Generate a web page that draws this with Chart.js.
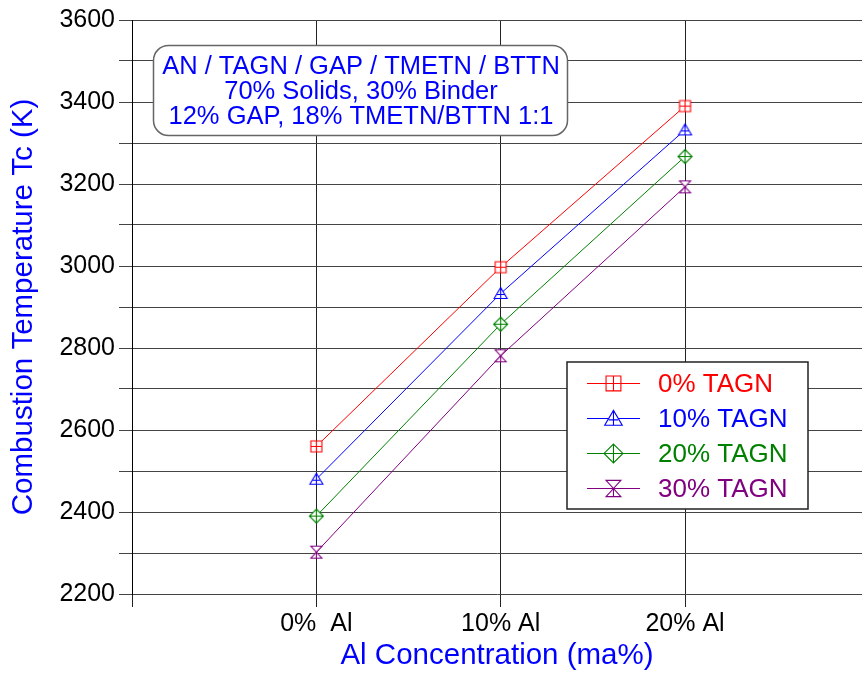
<!DOCTYPE html>
<html>
<head>
<meta charset="utf-8">
<script src="https://cdn.jsdelivr.net/npm/chart.js@4.4.1/dist/chart.umd.min.js"></script>
<style>
  html, body { margin: 0; padding: 0; background: #fff; }
</style>
</head>
<body>
<canvas id="tcChart" width="862" height="675"></canvas>
<script>
// Data
const categories = ['0%  Al', '10% Al', '20% Al'];
const seriesNames = ['0% TAGN', '10% TAGN', '20% TAGN', '30% TAGN'];
const tagn0 = [2560, 2997, 3390];
const tagn10 = [2480, 2933, 3332];
const tagn20 = [2390, 2858, 3267];
const tagn30 = [2302, 2781, 3193];
const seriesColors = ['#ff0000', '#0000ff', '#008000', '#800080'];
const markerKinds = ['squarePlus', 'triangle', 'diamond', 'hourglass'];
const noteLines = ['AN / TAGN / GAP / TMETN / BTTN', '70% Solids, 30% Binder', '12% GAP, 18% TMETN/BTTN 1:1'];
const xTickValues = [-1, 0, 1, 2];

const FONT = "'Liberation Sans', Arial, sans-serif";

function makeMarker(kind, color, scale) {
    const c = document.createElement('canvas');
    c.width = Math.round(17 * scale); c.height = Math.round(17 * scale);
    const g = c.getContext('2d');
    g.scale(scale, scale);
    g.strokeStyle = color;
    g.fillStyle = '#fff';
    g.lineWidth = 1.1 / scale;
    g.beginPath();
    if (kind === 'squarePlus') {
        g.rect(3, 3, 11, 11);
        g.fill(); g.stroke();
        g.beginPath();
        g.moveTo(8.5, 3); g.lineTo(8.5, 14);
        g.moveTo(3, 8.5); g.lineTo(14, 8.5);
    } else if (kind === 'triangle') {
        g.moveTo(8.5, 2.5); g.lineTo(15, 13.5); g.lineTo(2, 13.5); g.closePath();
        g.fill(); g.stroke();
        g.beginPath();
        g.moveTo(8.5, 2.5); g.lineTo(8.5, 13.5);
        g.moveTo(5, 9.5); g.lineTo(12, 9.5);
    } else if (kind === 'diamond') {
        g.moveTo(8.5, 1.5); g.lineTo(15.5, 8.5); g.lineTo(8.5, 15.5); g.lineTo(1.5, 8.5); g.closePath();
        g.fill(); g.stroke();
        g.beginPath();
        g.moveTo(8.5, 1.5); g.lineTo(8.5, 15.5);
        g.moveTo(1.5, 8.5); g.lineTo(15.5, 8.5);
    } else {
        g.moveTo(3, 2.5); g.lineTo(14, 2.5); g.lineTo(3, 14.5); g.lineTo(14, 14.5); g.closePath();
        g.fill(); g.stroke();
        g.beginPath();
        g.moveTo(8.5, 8.5); g.lineTo(8.5, 14.5);
    }
    g.stroke();
    return c;
}

const allSeries = [tagn0, tagn10, tagn20, tagn30];
const legendMarkers = markerKinds.map((k, i) => makeMarker(k, seriesColors[i], 1.35));
const datasets = allSeries.map((vals, i) => ({
    label: seriesNames[i],
    data: vals.map((v, j) => ({ x: j, y: v })),
    borderColor: seriesColors[i],
    backgroundColor: seriesColors[i],
    borderWidth: 1,
    pointStyle: makeMarker(markerKinds[i], seriesColors[i], 1),
    pointRadius: 6,
    tension: 0
}));

// note box + legend box drawn over the plot
const overlayPlugin = {
    id: 'overlay',
    afterDatasetsDraw(chart) {
        const ctx = chart.ctx;
        ctx.save();

        // note box
        ctx.beginPath();
        ctx.roundRect(153.5, 45.5, 414, 90, 15);
        ctx.fillStyle = '#fff';
        ctx.fill();
        ctx.strokeStyle = '#666';
        ctx.lineWidth = 1.5;
        ctx.stroke();
        ctx.fillStyle = '#0000ff';
        ctx.font = '25.5px ' + FONT;
        ctx.textAlign = 'center';
        ctx.textBaseline = 'middle';
        noteLines.forEach((t, i) => ctx.fillText(t, 361, 67 + i * 25));

        // legend
        ctx.beginPath();
        ctx.rect(567, 362, 241, 147);
        ctx.fillStyle = '#fff';
        ctx.fill();
        ctx.strokeStyle = '#222';
        ctx.lineWidth = 1.5;
        ctx.stroke();
        ctx.font = '26px ' + FONT;
        ctx.textAlign = 'left';
        chart.data.datasets.forEach((ds, i) => {
            const y = 383.5 + i * 35;
            ctx.strokeStyle = ds.borderColor;
            ctx.lineWidth = 1;
            ctx.beginPath();
            ctx.moveTo(587, y); ctx.lineTo(640, y);
            ctx.stroke();
            const img = legendMarkers[i];
            ctx.drawImage(img, 613.5 - img.width / 2, y - img.height / 2);
            ctx.fillStyle = ds.borderColor;
            ctx.fillText(ds.label, 658, y + 1);
        });
        ctx.restore();
    }
};

new Chart(document.getElementById('tcChart').getContext('2d'), {
    type: 'line',
    data: { datasets: datasets },
    plugins: [overlayPlugin],
    options: {
        responsive: false,
        animation: false,
        layout: { autoPadding: false, padding: { top: 20, right: 0, left: 0, bottom: 0 } },
        plugins: {
            legend: { display: false },
            tooltip: { enabled: false }
        },
        scales: {
            x: {
                type: 'linear',
                min: -1,
                max: 2.96,
                afterBuildTicks: s => { s.ticks = xTickValues.map(v => ({ value: v })); },
                afterFit: s => { s.height = 81; },
                ticks: {
                    autoSkip: false,
                    maxRotation: 0,
                    padding: 2,
                    color: '#000',
                    font: { family: FONT, size: 25 },
                    callback: v => categories[v] !== undefined ? categories[v] : ''
                },
                grid: { color: '#222', lineWidth: 1, tickLength: 13 },
                border: { display: false },
                title: {
                    display: true,
                    text: 'Al Concentration (ma%)',
                    color: '#0000ff',
                    font: { family: FONT, size: 29.5 },
                    padding: { top: 0, bottom: 1 }
                }
            },
            y: {
                min: 2200,
                max: 3600,
                afterFit: s => { s.width = 132; },
                ticks: {
                    stepSize: 100,
                    padding: 4,
                    color: '#000',
                    font: { family: FONT, size: 25 },
                    callback: v => (v % 200 === 0 ? v : '')
                },
                grid: { color: '#444', lineWidth: 1, tickLength: 13 },
                border: { color: '#000', width: 1 },
                title: {
                    display: true,
                    text: 'Combustion Temperature Tc (K)',
                    color: '#0000ff',
                    font: { family: FONT, size: 29.5 },
                    padding: { top: 6, bottom: 0 }
                }
            }
        }
    }
});
</script>
</body>
</html>
